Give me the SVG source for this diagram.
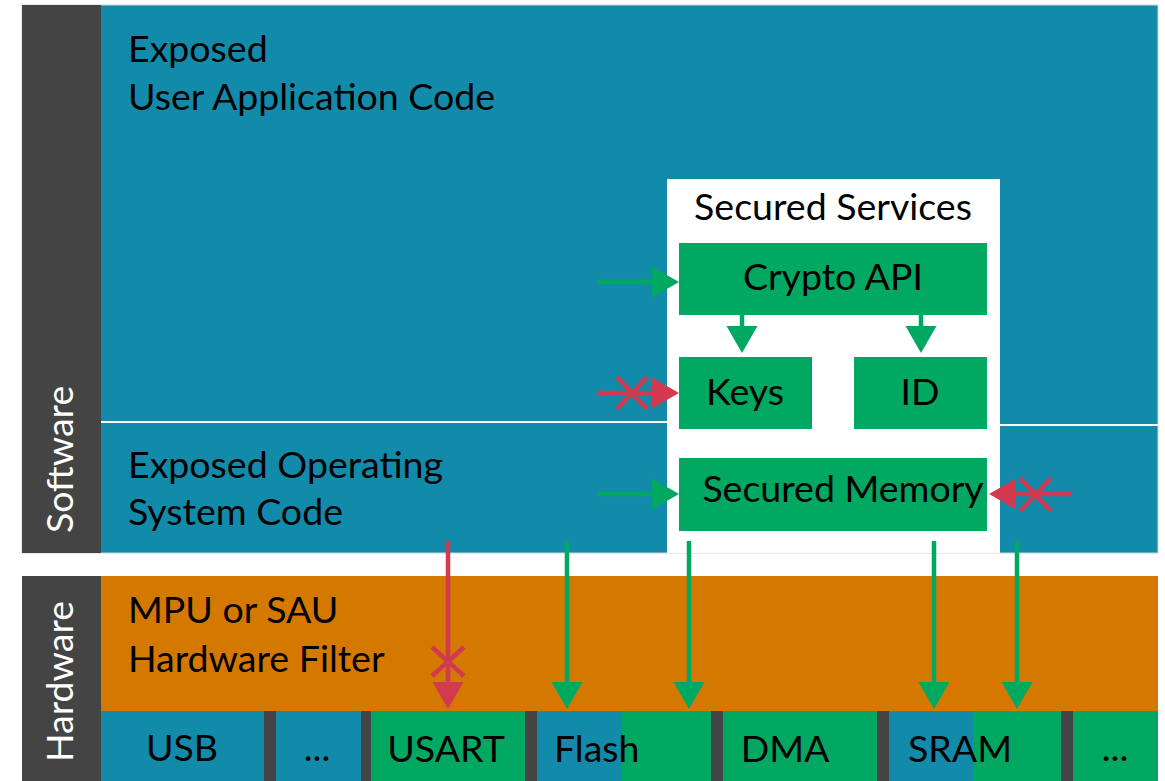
<svg xmlns="http://www.w3.org/2000/svg" width="1165" height="781" viewBox="0 0 1165 781">
<style>
text{font-family:Lato,"Open Sans","Liberation Sans",sans-serif;font-size:37.5px;fill:#000}
.side{fill:#fff}
.mid{text-anchor:middle}
.teal{fill:#128BAB}
.grn{fill:#00A862}
.gray{fill:#444}
.og{fill:#D57800}
.ag{stroke:#00A862;stroke-width:4.5;fill:none}
.ar{stroke:#D23A4F;stroke-width:4.5;fill:none}
</style>
<defs>
<marker id="hg" markerUnits="userSpaceOnUse" markerWidth="28" markerHeight="32" refX="0" refY="15.5" orient="auto" overflow="visible"><path d="M0,0 L27,15.5 L0,31 Z" fill="#00A862"/></marker>
<marker id="hr" markerUnits="userSpaceOnUse" markerWidth="28" markerHeight="32" refX="0" refY="15.5" orient="auto" overflow="visible"><path d="M0,0 L27,15.5 L0,31 Z" fill="#D23A4F"/></marker>
</defs>
<rect width="1165" height="781" fill="#fff"/>
<g id="software">
<rect x="22" y="5" width="1136" height="548" class="teal" stroke="#c9d3d8" stroke-width="1"/>
<rect x="22" y="5" width="79" height="548" class="gray"/>
<text class="side" transform="translate(73,533) rotate(-90)">Software</text>
</g>
<g id="user-app">
<text x="128" y="62">Exposed</text>
<text x="128" y="110">User Application Code</text>
<rect x="101" y="421" width="566" height="2" fill="#fff"/>
<rect x="1000" y="424" width="158" height="2" fill="#fff"/>
</g>
<g id="os-code">
<text x="128" y="478">Exposed Operating</text>
<text x="128" y="525">System Code</text>
</g>
<g id="secured-services">
<rect x="667" y="179" width="333" height="374" fill="#fff"/>
<text x="833" y="220" class="mid">Secured Services</text>
</g>
<g id="crypto-api">
<rect x="679" y="243" width="308" height="72" class="grn"/>
<text x="833" y="290" class="mid">Crypto API</text>
</g>
<g id="keys">
<rect x="679" y="357" width="133" height="72" class="grn"/>
<text x="745" y="405" class="mid">Keys</text>
</g>
<g id="id">
<rect x="854" y="357" width="133" height="72" class="grn"/>
<text x="920" y="405" class="mid">ID</text>
</g>
<g id="secured-memory">
<rect x="679" y="458" width="308" height="73" class="grn"/>
<text x="843" y="502" class="mid">Secured Memory</text>
</g>
<g id="hardware">
<rect x="22" y="576" width="1136" height="205" class="gray"/>
<text class="side" transform="translate(73,762) rotate(-90)">Hardware</text>
</g>
<g id="filter">
<rect x="101" y="576" width="1057" height="135" class="og"/>
<text x="128" y="623">MPU or SAU</text>
<text x="128" y="672">Hardware Filter</text>
</g>
<g id="usb"><rect x="101" y="711" width="163" height="70" class="teal"/><text x="182" y="761" class="mid">USB</text></g>
<g id="dots1"><rect x="276" y="711" width="85" height="70" class="teal"/><text x="317" y="761" class="mid">...</text></g>
<g id="usart"><rect x="371" y="711" width="154" height="70" class="grn"/><text x="446" y="762" class="mid">USART</text></g>
<g id="flash"><rect x="537" y="711" width="174" height="70" class="grn"/><rect x="537" y="711" width="85" height="70" class="teal"/><text x="554" y="762">Flash</text></g>
<g id="dma"><rect x="723" y="711" width="154" height="70" class="grn"/><text x="785" y="762" class="mid">DMA</text></g>
<g id="sram"><rect x="889" y="711" width="172" height="70" class="grn"/><rect x="889" y="711" width="84" height="70" class="teal"/><text x="908" y="762">SRAM</text></g>
<g id="dots2"><rect x="1073" y="711" width="85" height="70" class="grn"/><text x="1115" y="761" class="mid">...</text></g>
<g id="connectors">
<line x1="597" y1="282" x2="652" y2="282" class="ag" marker-end="url(#hg)"/>
<line x1="742" y1="315" x2="742" y2="326" class="ag" marker-end="url(#hg)"/>
<line x1="921" y1="315" x2="921" y2="326" class="ag" marker-end="url(#hg)"/>
<line x1="597" y1="393" x2="652" y2="393" class="ar" marker-end="url(#hr)"/>
<path d="M617,377 L647,409 M617,409 L647,377" class="ar"/>
<line x1="597" y1="494" x2="652" y2="494" class="ag" marker-end="url(#hg)"/>
<line x1="1071" y1="494" x2="1016" y2="494" class="ar" marker-end="url(#hr)"/>
<path d="M1020,478 L1051,511 M1020,511 L1051,478" class="ar"/>
<line x1="448" y1="541" x2="448" y2="682" class="ar" marker-end="url(#hr)"/>
<path d="M432,647 L464,676 M432,676 L464,647" class="ar"/>
<line x1="567" y1="541" x2="567" y2="682" class="ag" marker-end="url(#hg)"/>
<line x1="689" y1="541" x2="689" y2="682" class="ag" marker-end="url(#hg)"/>
<line x1="934" y1="541" x2="934" y2="682" class="ag" marker-end="url(#hg)"/>
<line x1="1017" y1="541" x2="1017" y2="682" class="ag" marker-end="url(#hg)"/>
</g>
</svg>
